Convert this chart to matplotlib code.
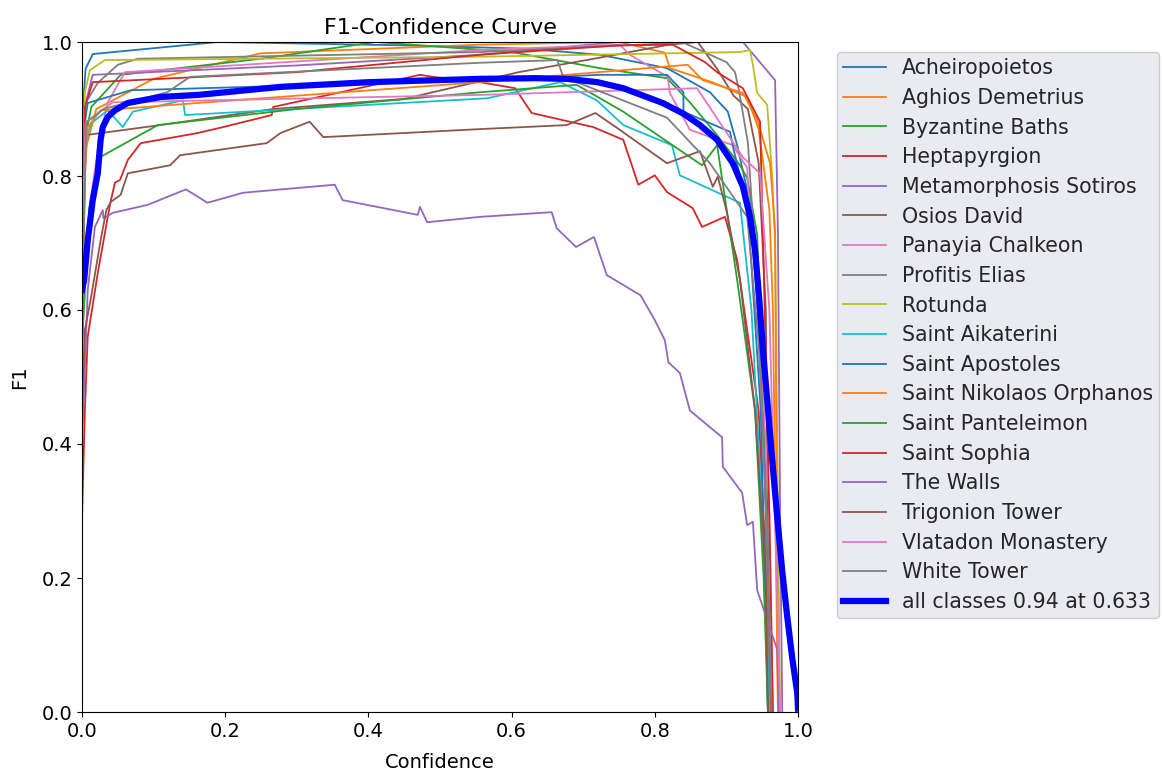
import matplotlib
matplotlib.use("Agg")
import matplotlib.pyplot as plt

#-----DATA-----#
names = ["Acheiropoietos", "Aghios Demetrius", "Byzantine Baths", "Heptapyrgion",
         "Metamorphosis Sotiros", "Osios David", "Panayia Chalkeon", "Profitis Elias",
         "Rotunda", "Saint Aikaterini", "Saint Apostoles", "Saint Nikolaos Orphanos",
         "Saint Panteleimon", "Saint Sophia", "The Walls", "Trigonion Tower",
         "Vlatadon Monastery", "White Tower"]

acheiropoietos_x = [0.0, 0.005, 0.015, 0.19, 0.45, 0.62, 0.723, 0.817, 0.877, 0.902, 0.915, 0.935, 0.952, 0.962]
acheiropoietos_y = [0.88, 0.96, 0.982, 1.0, 0.995, 0.99, 0.981, 0.961, 0.925, 0.896, 0.846, 0.75, 0.45, 0.0]

aghios_x = [0.0, 0.005, 0.02, 0.1, 0.249, 0.556, 0.75, 0.79, 0.814, 0.821, 0.88, 0.929, 0.945, 0.96, 0.965, 0.972]
aghios_y = [0.62, 0.84, 0.9, 0.945, 0.983, 0.996, 1.0, 0.99, 0.984, 0.961, 0.94, 0.918, 0.87, 0.75, 0.6, 0.0]

byzantine_x = [0.0, 0.005, 0.013, 0.054, 0.25, 0.41, 0.6, 0.723, 0.817, 0.849, 0.887, 0.919, 0.929, 0.943, 0.955, 0.96]
byzantine_y = [0.65, 0.86, 0.903, 0.951, 0.975, 1.0, 0.985, 0.961, 0.946, 0.91, 0.861, 0.816, 0.797, 0.712, 0.3, 0.0]

heptapyrgion_x = [0.0, 0.004, 0.008, 0.022, 0.039, 0.046, 0.053, 0.064, 0.082, 0.161, 0.197, 0.265,
                  0.267, 0.472, 0.49, 0.556, 0.605, 0.628, 0.714, 0.756, 0.777, 0.8, 0.817, 0.853,
                  0.866, 0.898, 0.915, 0.945, 0.958, 0.962]
heptapyrgion_y = [0.287, 0.45, 0.56, 0.655, 0.757, 0.79, 0.794, 0.824, 0.849, 0.864, 0.873, 0.891,
                  0.903, 0.951, 0.948, 0.94, 0.931, 0.894, 0.873, 0.854, 0.787, 0.801, 0.776, 0.752,
                  0.724, 0.739, 0.675, 0.45, 0.15, 0.0]

metamorphosis_x = [0.0, 0.003, 0.015, 0.3, 0.556, 0.75, 0.923, 0.968, 0.972, 0.975, 0.978]
metamorphosis_y = [0.6, 0.9, 0.951, 0.965, 0.981, 1.0, 1.0, 0.943, 0.712, 0.3, 0.0]

osios_x = [0.0, 0.005, 0.109, 0.267, 0.45, 0.61, 0.72, 0.82, 0.86, 0.887, 0.91, 0.93, 0.945, 0.955, 0.96]
osios_y = [0.6, 0.861, 0.876, 0.9, 0.915, 0.955, 0.976, 0.996, 1.0, 0.96, 0.92, 0.9, 0.82, 0.6, 0.0]

panayia_x = [0.0, 0.01, 0.025, 0.036, 0.06, 0.556, 0.751, 0.765, 0.818, 0.821, 0.849, 0.909, 0.929, 0.933,
             0.945, 0.96, 0.965]
panayia_y = [0.55, 0.75, 0.86, 0.91, 0.955, 0.988, 0.996, 0.981, 0.948, 0.924, 0.869, 0.846, 0.812, 0.731,
             0.6, 0.3, 0.0]

profitis_x = [0.0, 0.005, 0.022, 0.05, 0.078, 0.556, 0.84, 0.9, 0.912, 0.917, 0.93, 0.945, 0.955, 0.96]
profitis_y = [0.6, 0.909, 0.939, 0.966, 0.975, 0.985, 0.999, 0.97, 0.955, 0.931, 0.85, 0.6, 0.3, 0.0]

rotunda_x = [0.0, 0.004, 0.011, 0.032, 0.556, 0.919, 0.933, 0.937, 0.943, 0.957, 0.964, 0.968, 0.975]
rotunda_y = [0.7, 0.925, 0.958, 0.973, 0.978, 0.985, 0.988, 0.966, 0.924, 0.906, 0.8, 0.7, 0.0]

aikaterini_x = [0.0, 0.004, 0.013, 0.036, 0.057, 0.071, 0.141, 0.144, 0.566, 0.668, 0.719, 0.756,
                0.824, 0.835, 0.919, 0.923, 0.935, 0.95, 0.96]
aikaterini_y = [0.5, 0.849, 0.879, 0.898, 0.873, 0.896, 0.913, 0.891, 0.916, 0.94, 0.913, 0.876,
                0.846, 0.801, 0.76, 0.719, 0.6, 0.3, 0.0]

apostoles_x = [0.0, 0.004, 0.008, 0.068, 0.3, 0.6, 0.723, 0.817, 0.84, 0.84, 0.905, 0.91, 0.93, 0.948, 0.958]
apostoles_y = [0.7, 0.88, 0.909, 0.928, 0.935, 0.945, 0.951, 0.951, 0.925, 0.896, 0.866, 0.84, 0.75, 0.45, 0.0]

nikolaos_x = [0.0, 0.004, 0.008, 0.026, 0.162, 0.556, 0.677, 0.846, 0.867, 0.923, 0.943, 0.961, 0.968, 0.972]
nikolaos_y = [0.5, 0.8, 0.873, 0.898, 0.909, 0.94, 0.951, 0.966, 0.943, 0.924, 0.884, 0.819, 0.719, 0.0]

panteleimon_x = [0.0, 0.01, 0.025, 0.106, 0.3, 0.556, 0.691, 0.756, 0.866, 0.887, 0.915, 0.94, 0.952, 0.958]
panteleimon_y = [0.55, 0.75, 0.828, 0.876, 0.9, 0.925, 0.936, 0.896, 0.816, 0.846, 0.645, 0.45, 0.2, 0.0]

sophia_x = [0.0, 0.004, 0.015, 0.3, 0.556, 0.75, 0.825, 0.87, 0.887, 0.923, 0.947, 0.951, 0.958, 0.965]
sophia_y = [0.6, 0.903, 0.94, 0.955, 0.981, 0.995, 0.996, 0.97, 0.955, 0.931, 0.881, 0.712, 0.4, 0.0]

walls_x = [0.0, 0.008, 0.018, 0.029, 0.03, 0.043, 0.092, 0.145, 0.162, 0.175, 0.225, 0.353, 0.364,
           0.469, 0.472, 0.482, 0.556, 0.656, 0.663, 0.69, 0.715, 0.733, 0.78, 0.8, 0.814, 0.819,
           0.835, 0.849, 0.894, 0.895, 0.922, 0.929, 0.937, 0.943, 0.971, 0.973]
walls_y = [0.4, 0.63, 0.724, 0.749, 0.737, 0.745, 0.757, 0.78, 0.769, 0.76, 0.775, 0.787, 0.764,
           0.742, 0.754, 0.731, 0.739, 0.746, 0.722, 0.694, 0.709, 0.652, 0.622, 0.585, 0.555, 0.522,
           0.506, 0.45, 0.41, 0.366, 0.327, 0.279, 0.284, 0.182, 0.093, 0.0]

trigonion_x = [0.0, 0.004, 0.012, 0.026, 0.034, 0.04, 0.054, 0.064, 0.123, 0.137, 0.258, 0.277, 0.318,
               0.337, 0.556, 0.677, 0.717, 0.747, 0.817, 0.863, 0.881, 0.888, 0.9, 0.919, 0.94, 0.955, 0.958]
trigonion_y = [0.45, 0.57, 0.615, 0.704, 0.749, 0.761, 0.772, 0.804, 0.816, 0.831, 0.849, 0.864, 0.881,
               0.858, 0.87, 0.876, 0.894, 0.872, 0.819, 0.837, 0.784, 0.799, 0.749, 0.645, 0.45, 0.2, 0.0]

vlatadon_x = [0.0, 0.005, 0.043, 0.556, 0.859, 0.923, 0.947, 0.96, 0.975]
vlatadon_y = [0.7, 0.88, 0.91, 0.921, 0.931, 0.828, 0.804, 0.6, 0.0]

white_x = [0.0, 0.006, 0.03, 0.119, 0.151, 0.556, 0.664, 0.672, 0.817, 0.877, 0.929, 0.945, 0.958, 0.963]
white_y = [0.6, 0.88, 0.9, 0.925, 0.948, 0.969, 0.973, 0.948, 0.887, 0.819, 0.739, 0.55, 0.25, 0.0]

# mean over all classes (smooth thick line)
all_x = [0.0, 0.003, 0.008, 0.015, 0.022, 0.026, 0.029, 0.036, 0.046, 0.064, 0.11, 0.162, 0.277,
         0.4, 0.556, 0.633, 0.677, 0.72, 0.756, 0.811, 0.84, 0.863, 0.887, 0.909, 0.923, 0.933,
         0.94, 0.946, 0.951, 0.957, 0.964, 0.971, 0.978, 0.985, 0.992, 0.999, 1.0]
all_y = [0.63, 0.645, 0.704, 0.764, 0.804, 0.854, 0.873, 0.888, 0.898, 0.909, 0.918, 0.921, 0.933,
         0.94, 0.945, 0.946, 0.945, 0.94, 0.931, 0.909, 0.893, 0.876, 0.854, 0.819, 0.784, 0.739,
         0.69, 0.615, 0.54, 0.466, 0.376, 0.291, 0.21, 0.142, 0.08, 0.028, 0.005]
#-----DATA-----#

curves = [(acheiropoietos_x, acheiropoietos_y), (aghios_x, aghios_y), (byzantine_x, byzantine_y),
          (heptapyrgion_x, heptapyrgion_y), (metamorphosis_x, metamorphosis_y), (osios_x, osios_y),
          (panayia_x, panayia_y), (profitis_x, profitis_y), (rotunda_x, rotunda_y),
          (aikaterini_x, aikaterini_y), (apostoles_x, apostoles_y), (nikolaos_x, nikolaos_y),
          (panteleimon_x, panteleimon_y), (sophia_x, sophia_y), (walls_x, walls_y),
          (trigonion_x, trigonion_y), (vlatadon_x, vlatadon_y), (white_x, white_y)]

plt.rcParams["font.size"] = 14

fig = plt.figure(figsize=(11.63, 7.72), dpi=100)
ax = fig.add_axes([82 / 1163, 1 - 712 / 772, 716 / 1163, 670 / 772])

for name, (x, y) in zip(names, curves):
    ax.plot(x, y, linewidth=1.3, label=name)
ax.plot(all_x, all_y, linewidth=4.5, color="blue", label="all classes 0.94 at 0.633")

ax.set_xlim(0, 1)
ax.set_ylim(0, 1)
ax.set_xticks([0.0, 0.2, 0.4, 0.6, 0.8, 1.0])
ax.set_yticks([0.0, 0.2, 0.4, 0.6, 0.8, 1.0])
ax.set_xlabel("Confidence", labelpad=8.5)
ax.set_ylabel("F1", labelpad=9)
ax.set_title("F1-Confidence Curve", fontsize=16, pad=6)

leg = ax.legend(loc="upper left", bbox_to_anchor=(1.0545, 0.985), borderaxespad=0,
                fontsize=14.8, labelspacing=0.47, handlelength=2.1, handletextpad=0.75,
                borderpad=0.3, facecolor="#eaeaf2", edgecolor="#cccccc", framealpha=1)
for t in leg.get_texts():
    t.set_color("#262626")

fig.savefig("out.png", dpi=100)
